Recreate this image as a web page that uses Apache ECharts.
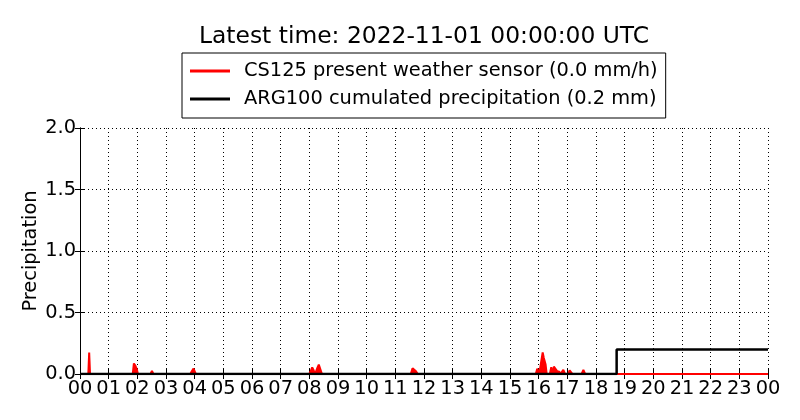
<!DOCTYPE html>
<html>
<head>
<meta charset="utf-8">
<script src="https://cdn.jsdelivr.net/npm/echarts@6/dist/echarts.min.js"></script>
<style>html,body{margin:0;padding:0;background:#fff;}#c{width:800px;height:420px;}</style>
</head>
<body>
<div id="c"></div>
<script>
var titleText = 'Latest time: 2022-11-01 00:00:00 UTC';
var seriesNames = ['CS125 present weather sensor (0.0 mm/h)', 'ARG100 cumulated precipitation (0.2 mm)'];
var xTickHours = [0,1,2,3,4,5,6,7,8,9,10,11,12,13,14,15,16,17,18,19,20,21,22,23,24];
var yTicks = [0, 0.5, 1.0, 1.5, 2.0];

// CS125 precipitation intensity (mm/h), hours since start
var redHours = [0, 0.29, 0.32, 0.35, 0.38,
  1.84, 1.88, 1.93, 1.98, 2.02,
  2.46, 2.51, 2.56,
  3.85, 3.9, 3.96, 4.0, 4.04,
  8.0, 8.04, 8.1, 8.15, 8.2, 8.28, 8.33, 8.38, 8.44,
  8.98, 9.03, 9.07,
  11.54, 11.6, 11.66, 11.72, 11.78,
  15.9, 15.95, 16.02, 16.08, 16.14, 16.18, 16.24, 16.28,
  16.39, 16.44, 16.49, 16.53, 16.59, 16.65, 16.72, 16.76,
  16.8, 16.86, 16.92,
  17.03, 17.08, 17.13, 17.18,
  17.5, 17.56, 17.62,
  18.31, 18.35, 18.39,
  24];
var redValues = [0, 0, 0.175, 0, 0,
  0, 0.086, 0.068, 0.04, 0,
  0, 0.026, 0,
  0, 0.022, 0.044, 0.044, 0,
  0, 0.02, 0.054, 0.03, 0, 0.05, 0.076, 0.07, 0,
  0, 0.012, 0,
  0, 0.046, 0.03, 0.022, 0,
  0, 0.043, 0, 0, 0.176, 0.13, 0.08, 0,
  0, 0.055, 0, 0.06, 0.076, 0.022, 0.018, 0,
  0, 0.033, 0,
  0, 0.03, 0.043, 0,
  0, 0.033, 0,
  0, 0.012, 0,
  0];

// ARG100 cumulated precipitation (mm)
var blackHours = [0, 18.72, 18.72, 24];
var blackValues = [0, 0, 0.2, 0.2];

function pairs(xs, ys) { return xs.map(function (x, i) { return [x, ys[i]]; }); }

var chart = echarts.init(document.getElementById('c'), null, { renderer: 'canvas' });
var font = 'DejaVu Sans';
var fs = 19.4;
var axisCommon = {
  axisLine: { show: true, lineStyle: { color: '#000', width: 1 } },
  axisTick: { show: true, inside: true, length: 5, lineStyle: { color: '#000', width: 1 } }
};
chart.setOption({
  animation: false,
  backgroundColor: '#fff',
  textStyle: { fontFamily: font },
  title: {
    text: titleText,
    left: 194, top: 20,
    textStyle: { fontFamily: font, fontSize: 23.4, fontWeight: 'normal', color: '#000' }
  },
  legend: {
    data: seriesNames,
    orient: 'vertical',
    left: 182, top: 53,
    borderColor: '#000', borderWidth: 1,
    padding: [8, 8, 9, 8],
    itemGap: 8,
    itemWidth: 40, itemHeight: 3,
    icon: 'rect',
    textStyle: { fontFamily: font, fontSize: fs, color: '#000', lineHeight: 20, padding: [0, 0, 0, 9] }
  },
  grid: { left: 80, right: 32, top: 128, bottom: 46, containLabel: false },
  xAxis: [
    Object.assign({
      type: 'value', min: 0, max: 24, interval: 1, position: 'bottom',
      axisLabel: {
        fontFamily: font, fontSize: fs, color: '#000', margin: 5,
        formatter: function (v) { return String(v % 24).padStart(2, '0'); }
      },
      splitLine: { show: true, lineStyle: { color: '#000', width: 1, type: [1, 3] } }
    }, axisCommon),
    Object.assign({
      type: 'value', min: 0, max: 24, interval: 1, position: 'top',
      axisLabel: { show: false }, splitLine: { show: false }
    }, axisCommon)
  ],
  yAxis: [
    Object.assign({
      type: 'value', min: 0, max: 2, interval: 0.5, position: 'left',
      name: 'Precipitation', nameLocation: 'middle', nameGap: 40, nameMoveOverlap: false,
      nameTextStyle: { fontFamily: font, fontSize: fs, color: '#000' },
      axisLabel: {
        fontFamily: font, fontSize: fs, color: '#000', margin: 4,
        formatter: function (v) { return v.toFixed(1); }
      },
      splitLine: { show: true, lineStyle: { color: '#000', width: 1, type: [1, 3] } }
    }, axisCommon),
    Object.assign({
      type: 'value', min: 0, max: 2, interval: 0.5, position: 'right',
      axisLabel: { show: false }, splitLine: { show: false }
    }, axisCommon)
  ],
  series: [
    {
      name: seriesNames[0], type: 'line', data: pairs(redHours, redValues),
      showSymbol: false, symbol: 'none',
      lineStyle: { color: '#ff0000', width: 2 }, itemStyle: { color: '#ff0000' },
      areaStyle: { color: '#ff0000', opacity: 1 },
      z: 2
    },
    {
      name: seriesNames[1], type: 'line', data: pairs(blackHours, blackValues),
      showSymbol: false, symbol: 'none',
      lineStyle: { color: '#000', width: 2.5 }, itemStyle: { color: '#000' },
      z: 3
    }
  ]
});
</script>
</body>
</html>
